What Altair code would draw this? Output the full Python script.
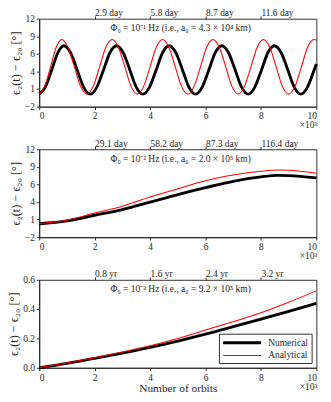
import altair as alt
import pandas as pd

SERIES = ["Numerical", "Analytical"]
X_TICKS = [0, 2, 4, 6, 8, 10]
TOP_TICKS = [2, 4, 6, 8]

# ---- Panel 1: Phi0 = 1e-1 Hz ----
p1_num_x = [0, 0.22, 0.45, 0.67, 0.89, 1.13, 1.37, 1.60, 1.84, 2.08, 2.32, 2.55, 2.79,
            3.03, 3.27, 3.50, 3.74, 3.98, 4.22, 4.45, 4.69, 4.93, 5.17, 5.40, 5.64,
            5.88, 6.12, 6.35, 6.59, 6.83, 7.07, 7.30, 7.54, 7.78, 8.02, 8.25, 8.49,
            8.73, 8.97, 9.20, 9.44, 9.68, 9.92, 10.0]
p1_num_y = [0, 1.12, 3.85, 6.58, 7.7, 6.58, 3.85, 1.12, 0, 1.12, 3.85, 6.58, 7.7,
            6.58, 3.85, 1.12, 0, 1.12, 3.85, 6.58, 7.7, 6.58, 3.85, 1.12, 0,
            1.12, 3.85, 6.58, 7.7, 6.58, 3.85, 1.12, 0, 1.12, 3.85, 6.58, 7.7,
            6.58, 3.85, 1.12, 0, 1.12, 3.85, 4.8]
p1_ana_x = [0, 0.2, 0.41, 0.61, 0.81, 1.04, 1.27, 1.49, 1.72, 1.95, 2.18, 2.40, 2.63,
            2.86, 3.09, 3.31, 3.54, 3.77, 4.00, 4.22, 4.45, 4.68, 4.91, 5.13, 5.36,
            5.59, 5.82, 6.04, 6.27, 6.50, 6.73, 6.95, 7.18, 7.41, 7.64, 7.86, 8.09,
            8.32, 8.55, 8.77, 9.00, 9.23, 9.46, 9.68, 9.91, 10.0]
p1_ana_y = [0, 1.27, 4.35, 7.43, 8.7, 7.43, 4.35, 1.27, 0, 1.27, 4.35, 7.43, 8.7,
            7.43, 4.35, 1.27, 0, 1.27, 4.35, 7.43, 8.7, 7.43, 4.35, 1.27, 0,
            1.27, 4.35, 7.43, 8.7, 7.43, 4.35, 1.27, 0, 1.27, 4.35, 7.43, 8.7,
            7.43, 4.35, 1.27, 0, 1.27, 4.35, 7.43, 8.7, 8.6]
p1_top = ["2.9 day", "5.8 day", "8.7 day", "11.6 day"]
p1_title = "Φ₀ = 10⁻¹ Hz (i.e., a₀ = 4.3 × 10⁴ km)"

# ---- Panel 2: Phi0 = 1e-2 Hz ----
p2_x = [0, 1, 2, 3, 4, 5, 6, 7, 8, 8.6, 9, 10]
p2_num_y = [0.15, 0.6, 1.5, 2.4, 3.6, 4.8, 5.9, 6.9, 7.6, 7.85, 7.8, 7.45]
p2_ana_y = [0.15, 0.7, 1.85, 2.95, 4.4, 5.7, 7.0, 7.9, 8.5, 8.7, 8.65, 8.2]
p2_top = ["29.1 day", "58.2 day", "87.3 day", "116.4 day"]
p2_title = "Φ₀ = 10⁻² Hz (i.e., a₀ = 2.0 × 10⁵ km)"

# ---- Panel 3: Phi0 = 1e-3 Hz ----
p3_x = [0, 1, 2, 3, 4, 5, 6, 7, 8, 9, 10]
p3_num_y = [0, 0.03, 0.064, 0.1, 0.139, 0.182, 0.229, 0.28, 0.332, 0.385, 0.44]
p3_ana_y = [0, 0.032, 0.069, 0.108, 0.15, 0.2, 0.257, 0.314, 0.375, 0.447, 0.525]
p3_top = ["0.8 yr", "1.6 yr", "2.4 yr", "3.2 yr"]
p3_title = "Φ₀ = 10⁻³ Hz (i.e., a₀ = 9.2 × 10⁵ km)"

Y_TITLE = "ϵ₂(t) − ϵ₂₀ [°]"
FONT = "Liberation Serif"
INK = "#262626"
W = 293
H = 93


def make_df(nx, ny, ax, ay):
    a = pd.DataFrame({"x": nx, "y": ny, "series": "Numerical"})
    b = pd.DataFrame({"x": ax, "y": ay, "series": "Analytical"})
    return pd.concat([a, b], ignore_index=True)


def top_expr(labels):
    expr = "''"
    for t, lab in reversed(list(zip(TOP_TICKS, labels))):
        expr = f"datum.value == {t} ? '{lab}' : ({expr})"
    return expr


def panel(df, ydom, yvals, ylabexpr, top_labels, title_text, xtitle, legend):
    xs = alt.Scale(domain=[0, 10], nice=False)
    ys = alt.Scale(domain=ydom, nice=False, zero=False)
    cs = alt.Scale(domain=SERIES, range=["#000000", "#ff0000"])
    ws = alt.Scale(domain=SERIES, range=[3, 1.1])
    if legend:
        leg = alt.Legend(title=None, orient="none", legendX=W - 103, legendY=H - 36,
                         fillColor="white", strokeColor=INK, padding=3,
                         symbolType="M-1,0H7", symbolSize=100, labelOffset=36,
                         labelFont=FONT, labelFontSize=10, labelColor=INK,
                         rowPadding=1)
    else:
        leg = None
    color = alt.Color("series:N", scale=cs, legend=leg)
    sw = alt.StrokeWidth("series:N", scale=ws, legend=leg)
    yaxis = alt.Axis(values=yvals, labelExpr=ylabexpr, title=Y_TITLE, grid=False,
                     tickSize=3, labelPadding=2, titlePadding=2, titleFontSize=13)
    bax_kwargs = dict(values=X_TICKS, format="d", grid=False, tickSize=3, labelPadding=2)
    if xtitle:
        bax = alt.Axis(title=xtitle, titleFontSize=12, titlePadding=1, **bax_kwargs)
    else:
        bax = alt.Axis(title=None, **bax_kwargs)
    tax = alt.Axis(orient="top", values=TOP_TICKS, labelExpr=top_expr(top_labels),
                   title=None, grid=False, tickSize=3, labelPadding=-2,
                   labelAlign="left", domain=False)
    base = alt.Chart(df)
    num = base.transform_filter(alt.datum.series == "Numerical").mark_line(
        interpolate="monotone").encode(
        x=alt.X("x:Q", scale=xs, axis=bax),
        y=alt.Y("y:Q", scale=ys, axis=yaxis),
        color=color, strokeWidth=sw)
    ana = base.transform_filter(alt.datum.series == "Analytical").mark_line(
        interpolate="monotone").encode(
        x=alt.X("x:Q", scale=xs, axis=tax),
        y=alt.Y("y:Q", scale=ys, axis=yaxis),
        color=color, strokeWidth=sw)
    ttl = alt.Chart(pd.DataFrame({"t": [title_text]})).mark_text(
        font=FONT, fontSize=10, color=INK, baseline="middle").encode(
        text="t:N", x=alt.value(W / 2 + 3), y=alt.value(10))
    mult = alt.Chart(pd.DataFrame({"t": ["×10³"]})).mark_text(
        font=FONT, fontSize=10, color=INK, align="right", baseline="middle").encode(
        text="t:N", x=alt.value(W + 1), y=alt.value(H + 20))
    return alt.layer(num, ana, ttl, mult).resolve_axis(x="independent").properties(
        width=W, height=H)


c1 = panel(make_df(p1_num_x, p1_num_y, p1_ana_x, p1_ana_y), [-2, 12],
           [-2, 0.8, 3.6, 6.4, 9.2, 12], "format(round(datum.value), 'd')",
           p1_top, p1_title, None, False)
c2 = panel(make_df(p2_x, p2_num_y, p2_x, p2_ana_y), [-2, 12],
           [-2, 0.8, 3.6, 6.4, 9.2, 12], "format(round(datum.value), 'd')",
           p2_top, p2_title, None, False)
c3 = panel(make_df(p3_x, p3_num_y, p3_x, p3_ana_y), [0, 0.6],
           [0, 0.2, 0.4, 0.6], "format(datum.value, '.1f')",
           p3_top, p3_title, "Number of orbits", True)

chart = alt.vconcat(c1, c2, c3, spacing=7).resolve_scale(
    color="independent", strokeWidth="independent").properties(
    padding={"left": 0, "right": 0, "top": -12, "bottom": 0}).configure(
    font=FONT).configure_view(stroke=INK, strokeWidth=1).configure_axis(
    labelFont=FONT, titleFont=FONT, labelFontSize=10, titleFontSize=11,
    labelColor=INK, titleColor=INK, domainColor=INK, tickColor=INK,
    titleFontWeight="normal")

chart.save("out.html", embed_options={"renderer": "svg", "actions": False})
